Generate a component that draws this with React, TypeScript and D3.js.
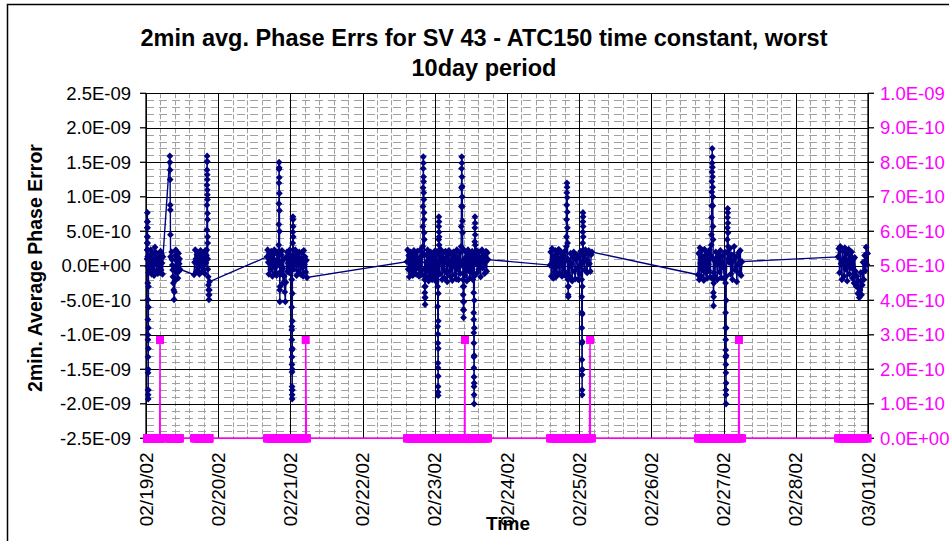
import { useEffect, useRef } from "react";
import { select, scaleLinear, line, range } from "d3";

const WIDTH = 949;
const HEIGHT = 541;
const FONT = "'Liberation Sans', Arial, sans-serif";

// x axis: day 0 = 02/19/02 00:00
const dateLabels = [
  "02/19/02", "02/20/02", "02/21/02", "02/22/02", "02/23/02", "02/24/02",
  "02/25/02", "02/26/02", "02/27/02", "02/28/02", "03/01/02",
];

const leftTicks = [-2.5e-9, -2e-9, -1.5e-9, -1e-9, -5e-10, 0, 5e-10, 1e-9, 1.5e-9, 2e-9, 2.5e-9];
const leftTickLabels = [
  "-2.5E-09", "-2.0E-09", "-1.5E-09", "-1.0E-09", "-5.0E-10", "0.0E+00",
  "5.0E-10", "1.0E-09", "1.5E-09", "2.0E-09", "2.5E-09",
];
const rightTicks = [0, 1e-10, 2e-10, 3e-10, 4e-10, 5e-10, 6e-10, 7e-10, 8e-10, 9e-10, 1e-9];
const rightTickLabels = [
  "0.0E+00", "1.0E-10", "2.0E-10", "3.0E-10", "4.0E-10", "5.0E-10",
  "6.0E-10", "7.0E-10", "8.0E-10", "9.0E-10", "1.0E-09",
];

// 2min avg phase error, runs of samples: [startDay, endDay, values (x 1E-10)]
const phaseRuns: [number, number, number[]][] = [
  // 02/19
  [0.015, 0.035, [1, 2.3, 3.3, 4.2, 5.5, 6.4, 7.7, 6.4, 5.5, 4.2, 3.3, 2.3, 1.3, -0.1, -2.5, -4.9, -7.8, -10, -10.7, -13.2, -15.5, -18, -18.7, -19.3, -18, -15, -12, -9, -6, -3, -1]],
  [0.04, 0.235, [1.5, 0.5, -0.8, 1.2, 2.3, 0.2, -1.2, 0.8, 1.8, -0.5, 0.6, -1.4, 1.0, 2.7, 2.0, 0.3, -0.9, 1.4, 0.1, -1.1, 0.6, 1.6, -0.4, 0.9, -1.0, 2.1, -0.6, 1.7, 0.4, -1.2, 1.3]],
  [0.33, 0.34, [15.9, 15, 13.9, 12.5, 8.8, 8.1, 4.5, 1.3]],
  [0.355, 0.47, [2, 0.9, 0.1, -0.6, -1.6, -2.5, -3.5, -4.9, -3.8, -2.2, -0.5, 1.5, 2.3, 0.8, -1.0, 1.2, 2.0, -0.3, -1.8, 0.6, 1.8, -0.8, 0.3, 1.0, -0.5]],
  [0.665, 0.838, [-1.3, 0.5, 2.3, 1.0, -0.8, 1.6, 2.0, -0.3, 0.8, -1.2, 1.4, 2.2, 0.2, -0.9, 1.1, 1.9, -0.5, 0.7, -1.1, 2.2, 0.4, 1.5]],
  [0.842, 0.856, [2.3, 5.2, 8.8, 11.7, 13.9, 15.1, 15.9, 15.1, 13.2, 12.5, 11.0, 10.3, 9.6, 7.6, 6.7, 4.2, 3.3, 1.0, -0.5]],
  [0.862, 0.88, [-1.6, -2.8, -3.5, -4.2, -4.9, -4.2, -3.5, -2.3]],
  // 02/20 - 02/21
  [1.676, 1.835, [1.3, 2.3, 0.5, -1.2, 1.8, 0.9, -0.6, 2.1, 1.2, -1.5, 0.3, 1.7, 2.3, -0.2, -1.0, 0.8, -1.4, 2.0, 0.1, 1.5]],
  [1.838, 1.856, [3, 6, 9, 12, 14, 15, 14.2, 12.8, 10.5, 8, 5, 2, -1, -3.5, -5.2, -3, -1]],
  [1.86, 2.015, [0.5, -1.2, 1.6, 2.2, -0.4, -2.5, 0.9, -1.5, -3.8, -5.2, -2.4, 1.3, 2.0, -0.8, 0.4, 1.8, -1.0, 2.3, -0.6, 0.6, 1.4]],
  [2.018, 2.028, [-2, -6, -8.8, -9.3, -10.7, -12.2, -13.2, -14.3, -15.4, -17.5, -18, -18.7, -19.3, -18, -15, -12, -8, -4, 0]],
  [2.031, 2.042, [1.3, 3.3, 4.9, 7.1, 6.7, 5.7, 4.2, 2.3, 0.5]],
  [2.05, 2.23, [-0.5, 1.2, 2.3, 0.4, -1.4, 1.7, 0.9, -0.8, 2.0, 1.1, -1.2, 0.6, 1.9, -0.3, -1.5, 2.2, 0.2, 1.3, -0.9, 0.8, -1.7]],
  // 02/22 - 02/23
  [3.615, 3.83, [0.6, 2.3, -0.5, 1.5, -1.6, 0.9, 2.0, -1.0, 1.2, 0.3, -1.4, 1.8, 2.2, -0.6, 0.7, 1.6, -1.2, 0.4, 2.1, -0.3, 1.0, -1.5, 0.8, 2.3, -0.9, 1.4, -1.3, 1.9]],
  [3.833, 3.87, [2.8, 5.7, 8.6, 11.3, 14.1, 15.8, 14.9, 12.9, 12.2, 10.6, 9.6, 7.7, 6.7, 4.8, 3.8, 1.5, -0.5, -2, -3, -3.9, -4.6, -5.6, -4.6, -3, -1.5]],
  [3.878, 4.035, [0.5, -1.8, 1.6, 2.3, -0.7, -2.2, 1.1, 0.2, -1.5, 2.0, 1.3, -0.9, -2.0, 0.8, 1.8, -0.4, -1.6, 1.0, 2.2, -1.1, -2.3, 1.7, 0.3]],
  [4.04, 4.05, [-3, -5.9, -8.8, -9.9, -11.2, -14.1, -14.8, -17.5, -18.3, -18.8, -16, -12, -8, -4, -1]],
  [4.053, 4.063, [1.6, 3.8, 5.7, 7.1, 6.4, 4.9, 4.2, 3.0, 2.3, 0.5]],
  [4.07, 4.36, [-1.2, 1.5, 2.3, 0.4, -2.0, 1.0, 1.9, -0.6, -1.8, 0.9, 2.1, 1.2, -1.0, -2.3, 0.3, 1.6, 2.2, -0.8, -1.5, 0.7, 1.8, -0.2, -2.1, 1.1, 2.0, 0.2, -1.3, 1.4, 0.6, -1.9, 2.3, -0.4, 1.2, -2.0, 0.8, 1.9, -1.1, 0.5]],
  [4.365, 4.405, [2.8, 5.7, 8.6, 11.3, 14.1, 15.8, 14.9, 12.9, 11.5, 10.0, 8.6, 6.5, 4.8, 2.5, 0, -2, -3, -4.2, -5.2, -6.4, -7.5, -6.4, -5.2, -3, -1]],
  [4.41, 4.535, [1.0, -1.4, 2.0, 0.4, -2.2, 1.5, 2.3, -0.7, 0.9, -1.8, 1.7, 0.1, -1.0, 2.1, -2.0, 1.3]],
  [4.538, 4.548, [-3.9, -6.8, -7.8, -9.7, -11.2, -13.2, -14.8, -16.1, -17.5, -18.7, -20, -17, -13, -9, -5, -1.5]],
  [4.552, 4.562, [1.5, 3.5, 5.5, 7.1, 6.2, 4.5, 3.0, 1.5]],
  [4.57, 4.737, [0.3, 2.2, -1.0, 1.4, -0.5, 2.0, 0.8, -1.6, 1.2, 2.3, -0.3, 0.9, 1.6, -1.1, 0.5, 2.1, -0.8, 1.9, 0.9]],
  // 02/24 - 02/25
  [5.596, 5.817, [0.1, 2.0, -1.5, 2.5, 0.6, -1.8, 1.4, -0.9, 2.2, -1.6, 0.8, 1.7, -1.2, 2.4, 0.2, -1.2, 1.1, 2.0, -1.5, 0.5, 1.5, -0.7, 2.1, -1.4, 0.9]],
  [5.822, 5.852, [2.8, 4.2, 6.7, 8.8, 10.6, 12.0, 11.4, 9.9, 7.8, 5.5, 3.3, 1.0, -1.0, -2.0, -3.0, -4.2, -4.5, -3, -1.5]],
  [5.86, 6.03, [0.5, -1.6, 1.8, 0.3, -2.2, 1.2, 2.0, -0.8, -1.9, 0.9, 1.6, -0.4, -2.0, 1.4, -1.2, 2.1, 0.2]],
  [6.034, 6.044, [-2, -4.5, -6.8, -9, -11.2, -13.6, -15.1, -15.8, -18, -18.7, -15, -11, -7, -3]],
  [6.048, 6.058, [1.5, 3.3, 4.9, 6.4, 7.7, 7.1, 5.7, 4.2, 2.3, 0.8]],
  [6.065, 6.177, [1.5, -0.6, 2.3, 0.8, -1.0, 1.9, 2.2, 0.3, -0.8, 1.6, 2.0]],
  // 02/26 - 02/27
  [7.645, 7.825, [-1.3, 1.8, -2.0, 2.6, 0.4, -1.5, 2.2, -0.6, 1.3, -2.1, 2.4, 0.9, -1.0, 1.6, -1.8, 2.0, 0.2, -0.7, 2.3, -1.6, 1.5]],
  [7.83, 7.865, [3.0, 4.5, 7.0, 8.7, 10.7, 12.2, 13.6, 14.9, 17.0, 15.8, 14.3, 12.9, 11.4, 10.0, 8.7, 5.7, 3.8, 1.0, -2.0, -3.9, -5.8, -4.5, -2.5, -1.0]],
  [7.87, 8.02, [0.8, -1.5, 2.0, 1.2, -2.0, 0.4, 1.7, -0.9, 2.2, -1.7, 0.6, 1.4, -0.3, -1.9, 2.0]],
  [8.027, 8.037, [-2.5, -6.8, -9, -10.7, -12.2, -13.2, -14.3, -15.5, -18, -18.7, -20, -17, -13, -9, -5, -1.5]],
  [8.05, 8.065, [1.9, 3.8, 5.5, 7.0, 8.3, 7.7, 6.2, 4.8, 2.8, 1.0]],
  [8.075, 8.255, [0.5, 2.5, -1.2, 1.6, -2.0, 0.8, 2.8, -0.6, 1.3, -2.3, 0.2, 1.9, -1.0, 2.2, -1.4, 0.6]],
  // 02/28 - 03/01
  [9.585, 9.995, [1.3, 2.5, -1.0, 2.8, 0.3, -2.0, 2.2, 1.0, -1.5, 2.6, -0.5, 1.8, -2.2, 0.7, 2.4, -1.2, 1.5, -0.3, 2.0, -1.8, 0.9, -2.5, 1.2, -0.8, -3.0, -1.5, -4.0, -2.2, -4.6, -3.5, -1.0, -4.2, -2.8, 0.5, -2.0, 1.5, -0.7, 2.7, 0.2, 1.8]],
];

// secondary series (pink): 0 at every sample, spikes at these days
const flagDays = [0.194, 2.212, 4.418, 6.15, 8.213];
const flagValue = 2.85e-10;

type Pt = { t: number; v: number };

const DrawChart = (el: SVGSVGElement) => {
  const svg = select(el);
  svg.selectAll("*").remove();

  const left = 146,
    right = 868,
    top = 93.3,
    bottom = 438.3;

  const x = scaleLinear([0, 10], [left, right]);
  const y = scaleLinear([-2.5e-9, 2.5e-9], [bottom, top]);
  const y2 = scaleLinear([0, 1e-9], [bottom, top]);

  // samples
  const phasePts: Pt[] = phaseRuns.flatMap(([t0, t1, vals]) =>
    vals.map((v, i) => ({
      t: t0 + ((t1 - t0) * i) / Math.max(1, vals.length - 1),
      v: v * 1e-10,
    }))
  );
  const flagPts: Pt[] = phasePts
    .map((p) => ({ t: p.t, v: 0 }))
    .concat(flagDays.map((d) => ({ t: d, v: flagValue })))
    .sort((a, b) => a.t - b.t);

  // chart area border (runs off the right/bottom of the picture)
  svg
    .append("rect")
    .attr("x", 7.5)
    .attr("y", 4.5)
    .attr("width", 1000)
    .attr("height", 600)
    .attr("fill", "#fff")
    .attr("stroke", "#000")
    .attr("stroke-width", 1.5);

  // title
  const title = svg
    .append("g")
    .attr("font-family", FONT)
    .attr("font-weight", "bold")
    .attr("font-size", 23.5)
    .attr("text-anchor", "middle");
  title.append("text").attr("x", 484).attr("y", 46).text("2min avg. Phase Errs for SV 43 - ATC150 time constant, worst");
  title.append("text").attr("x", 484).attr("y", 76).text("10day period");

  // minor grid (dashed grey)
  const minor = svg.append("g").attr("stroke", "#a0a0a0").attr("stroke-width", 1);
  minor
    .selectAll("line.h")
    .data(range(-25, 26).filter((k) => k % 5 !== 0))
    .enter()
    .append("line")
    .attr("x1", left)
    .attr("x2", right)
    .attr("y1", (k) => Math.round(y(k * 1e-10)) + 0.5)
    .attr("y2", (k) => Math.round(y(k * 1e-10)) + 0.5)
    .attr("stroke-dasharray", "8,5");
  minor
    .selectAll("line.v")
    .data(range(0, 50).filter((k) => k % 5 !== 0))
    .enter()
    .append("line")
    .attr("y1", top)
    .attr("y2", bottom)
    .attr("x1", (k) => Math.round(x(k / 5)) + 0.5)
    .attr("x2", (k) => Math.round(x(k / 5)) + 0.5)
    .attr("stroke-dasharray", "5,2");

  // major grid
  const major = svg.append("g").attr("stroke", "#000").attr("stroke-width", 1);
  major
    .selectAll("line.h")
    .data(leftTicks)
    .enter()
    .append("line")
    .attr("x1", left)
    .attr("x2", right)
    .attr("y1", (d) => Math.round(y(d)) + 0.5)
    .attr("y2", (d) => Math.round(y(d)) + 0.5);
  major
    .selectAll("line.v")
    .data(dateLabels)
    .enter()
    .append("line")
    .attr("y1", top)
    .attr("y2", bottom)
    .attr("x1", (d, i) => Math.round(x(i)) + 0.5)
    .attr("x2", (d, i) => Math.round(x(i)) + 0.5);

  // axes lines + ticks
  const axes = svg.append("g").attr("stroke", "#000").attr("stroke-width", 1.3);
  axes.append("line").attr("x1", left).attr("x2", left).attr("y1", top).attr("y2", bottom);
  axes.append("line").attr("x1", right).attr("x2", right).attr("y1", top).attr("y2", bottom);
  axes.append("line").attr("x1", left).attr("x2", right).attr("y1", bottom).attr("y2", bottom);
  axes
    .selectAll("line.lt")
    .data(leftTicks)
    .enter()
    .append("line")
    .attr("x1", left - 6)
    .attr("x2", left)
    .attr("y1", (d) => y(d))
    .attr("y2", (d) => y(d));
  axes
    .selectAll("line.rt")
    .data(rightTicks)
    .enter()
    .append("line")
    .attr("x1", right)
    .attr("x2", right + 6)
    .attr("y1", (d) => y2(d))
    .attr("y2", (d) => y2(d));

  // phase error series (navy, diamonds)
  const phaseLine = line<Pt>()
    .x((d) => x(d.t))
    .y((d) => y(d.v));
  svg
    .append("path")
    .attr("d", phaseLine(phasePts))
    .attr("fill", "none")
    .attr("stroke", "#000080")
    .attr("stroke-width", 1.4);
  svg
    .append("g")
    .selectAll("path")
    .data(phasePts)
    .enter()
    .append("path")
    .attr("d", "M0,-3.6L3.4,0L0,3.6L-3.4,0Z")
    .attr("transform", (d) => `translate(${x(d.t)},${y(d.v)})`)
    .attr("fill", "#000080");

  // flag series (magenta, squares) on the right axis
  const flagLine = line<Pt>()
    .x((d) => x(d.t))
    .y((d) => y2(d.v));
  svg
    .append("path")
    .attr("d", flagLine(flagPts))
    .attr("fill", "none")
    .attr("stroke", "#ff00ff")
    .attr("stroke-width", 1.5);
  svg
    .append("g")
    .selectAll("rect")
    .data(flagPts)
    .enter()
    .append("rect")
    .attr("x", (d) => x(d.t) - 4)
    .attr("y", (d) => y2(d.v) - 4)
    .attr("width", 8)
    .attr("height", 8)
    .attr("fill", "#ff00ff");

  // tick labels
  svg
    .append("g")
    .attr("font-family", FONT)
    .attr("font-size", 18.5)
    .attr("text-anchor", "end")
    .selectAll("text")
    .data(leftTicks)
    .enter()
    .append("text")
    .attr("x", 131)
    .attr("y", (d) => y(d))
    .attr("dy", "0.35em")
    .text((d, i) => leftTickLabels[i]);
  svg
    .append("g")
    .attr("font-family", FONT)
    .attr("font-size", 18.5)
    .attr("fill", "#ff00ff")
    .selectAll("text")
    .data(rightTicks)
    .enter()
    .append("text")
    .attr("x", 880)
    .attr("y", (d) => y2(d))
    .attr("dy", "0.35em")
    .text((d, i) => rightTickLabels[i]);
  svg
    .append("g")
    .attr("font-family", FONT)
    .attr("font-size", 19)
    .attr("text-anchor", "end")
    .selectAll("text")
    .data(dateLabels)
    .enter()
    .append("text")
    .attr("transform", (d, i) => `translate(${x(i) + 6.5},${bottom + 14}) rotate(-90)`)
    .text((d) => d);

  // axis titles
  svg
    .append("text")
    .attr("font-family", FONT)
    .attr("font-weight", "bold")
    .attr("font-size", 19.5)
    .attr("text-anchor", "middle")
    .attr("transform", "translate(42,268) rotate(-90)")
    .text("2min. Average Phase Error");
  svg
    .append("text")
    .attr("font-family", FONT)
    .attr("font-weight", "bold")
    .attr("font-size", 19)
    .attr("text-anchor", "middle")
    .attr("x", 508)
    .attr("y", 530)
    .text("Time");
};

const App = () => {
  const svgRef = useRef<SVGSVGElement>(null);

  useEffect(() => {
    if (svgRef.current) DrawChart(svgRef.current);
  }, []);

  return (
    <svg
      ref={svgRef}
      width={WIDTH}
      height={HEIGHT}
      style={{ position: "absolute", left: 0, top: 0, background: "#fff" }}
    />
  );
};

export default App;
